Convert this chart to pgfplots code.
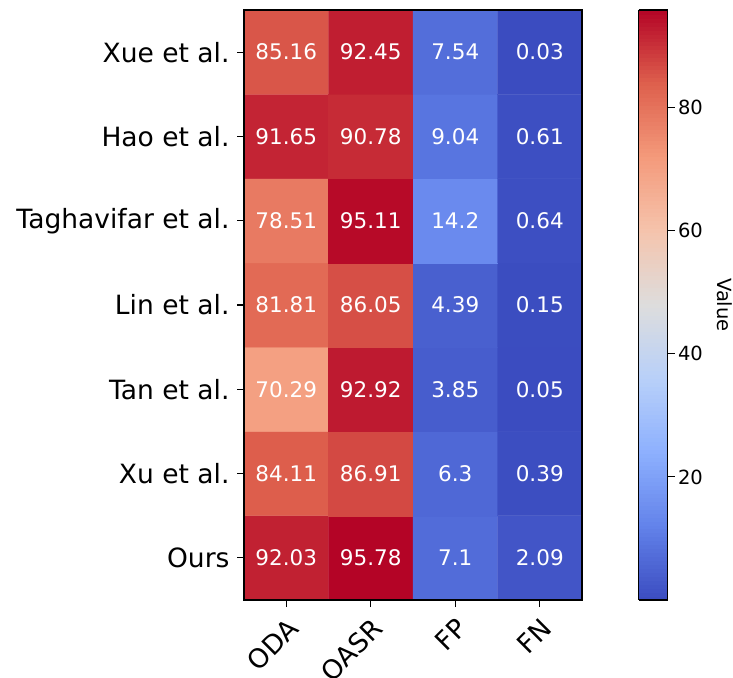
\documentclass[border=0pt]{standalone}
\usepackage{pgfplots}
\pgfplotsset{compat=1.18}
\usepackage{pgfplotstable}
\usepackage{fontspec}
\setmainfont{DejaVu Sans}

% diverging blue-grey-red map
\pgfplotsset{
  colormap={coolwarm}{
    rgb255=(59,76,192) rgb255=(98,130,234) rgb255=(141,176,254)
    rgb255=(184,208,249) rgb255=(221,221,221) rgb255=(245,196,173)
    rgb255=(244,154,123) rgb255=(222,96,77) rgb255=(180,4,38)}
}

% x = metric column, y = method row (6 = top row)
\pgfplotstableread{
x y v
0 0 92.03
1 0 95.78
2 0 7.1
3 0 2.09
0 1 84.11
1 1 86.91
2 1 6.3
3 1 0.39
0 2 70.29
1 2 92.92
2 2 3.85
3 2 0.05
0 3 81.81
1 3 86.05
2 3 4.39
3 3 0.15
0 4 78.51
1 4 95.11
2 4 14.2
3 4 0.64
0 5 91.65
1 5 90.78
2 5 9.04
3 5 0.61
0 6 85.16
1 6 92.45
2 6 7.54
3 6 0.03
}\heat

\begin{document}
\begin{tikzpicture}
\useasboundingbox (0pt,0pt) rectangle (733pt,677pt);
\begin{axis}[
  at={(244pt,77pt)}, anchor=south west,
  scale only axis, width=338pt, height=590pt,
  xmin=-0.5, xmax=3.5, ymin=-0.5, ymax=6.5,
  enlargelimits=false,
  xtick={0,...,3}, xticklabels={ODA,OASR,FP,FN},
  ytick={0,...,6},
  yticklabels={Ours,Xu et al.,Tan et al.,Lin et al.,Taghavifar et al.,Hao et al.,Xue et al.},
  xtick pos=bottom, ytick pos=left,
  tick align=outside, major tick length=7pt,
  tick style={black, line width=1.1pt},
  axis line style={black, line width=1.2pt},
  ticklabel style={font=\fontsize{26.5}{30}\selectfont, text=black},
  xticklabel style={yshift=-5pt, rotate=45, anchor=north east},
  yticklabel style={xshift=-4pt},
  colormap name=coolwarm,
  point meta min=0.03, point meta max=95.78,
  colorbar sampled,
  colorbar style={
    at={(parent axis.north east)}, anchor=north west, xshift=48pt,
    scale only axis, width=29pt, height=590pt,
    samples=150,
    ytick={20,40,60,80},
    ytick pos=right, yticklabel pos=right,
    tick align=outside, major tick length=7pt,
    tick style={black, line width=1.1pt},
    axis line style={black, line width=1.2pt},
    /pgf/number format/assume math mode=true,
    yticklabel style={font=\fontsize{19.5}{23}\selectfont, text=black},
    ylabel={Value}, ylabel near ticks,
    ylabel style={font=\fontsize{19.5}{23}\selectfont, rotate=180, yshift=7pt},
    axis on top,
  },
  axis on top,
]
\addplot[matrix plot*, mesh/cols=4, point meta=explicit] table[meta=v] {\heat};
\addplot[draw=none, mark=none, point meta=explicit,
  nodes near coords={\pgfmathprintnumber[fixed,precision=2,assume math mode=true]{\pgfplotspointmeta}},
  nodes near coords align={center},
  every node near coord/.append style={anchor=center, text=white,
    font=\fontsize{21.5}{25}\selectfont}]
  table[meta=v] {\heat};
\end{axis}
\end{tikzpicture}
\end{document}
